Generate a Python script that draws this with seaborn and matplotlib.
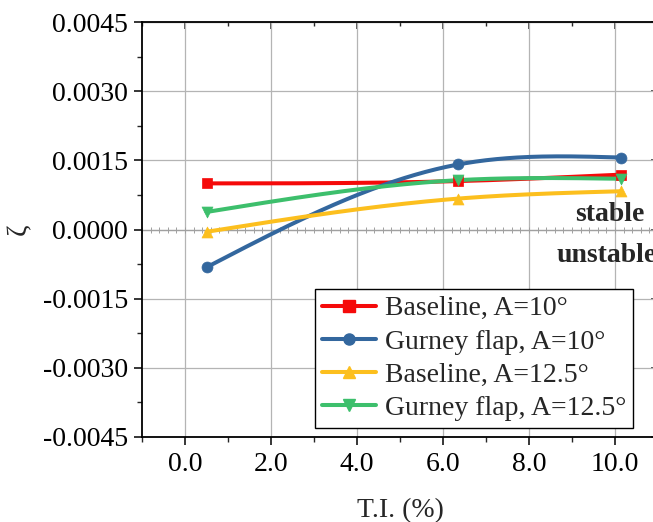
import numpy as np
import pandas as pd
import matplotlib
matplotlib.use("Agg")
import matplotlib.pyplot as plt
import seaborn as sns
from matplotlib.lines import Line2D
from matplotlib.ticker import MultipleLocator, FormatStrFormatter

# ---- data ----
ti = [0.5, 6.35, 10.15]
baseline_10 = [0.00100, 0.00105, 0.00119]
gurney_10 = [-0.00082, 0.00141, 0.00156]
baseline_125 = [-0.00005, 0.00067, 0.00083]
gurney_125 = [0.00038, 0.00107, 0.00110]
series_labels = ["Baseline, A=10°", "Gurney flap, A=10°",
                 "Baseline, A=12.5°", "Gurney flap, A=12.5°"]
x_ticks = [0.0, 2.0, 4.0, 6.0, 8.0, 10.0]
y_ticks = [-0.0045, -0.0030, -0.0015, 0.0, 0.0015, 0.0030, 0.0045]

colors = ["#f50a0a", "#33679e", "#fcbf1e", "#3dbf6c"]
markers = ["s", "o", "^", "v"]


def spline_path(x, y, n=200):
    """Natural cubic spline connecting the points (Origin-style spline line)."""
    x = np.asarray(x, float)
    y = np.asarray(y, float)
    k = len(x)
    h = np.diff(x)
    A = np.zeros((k, k))
    b = np.zeros(k)
    A[0, 0] = A[-1, -1] = 1.0
    for i in range(1, k - 1):
        A[i, i - 1] = h[i - 1]
        A[i, i] = 2 * (h[i - 1] + h[i])
        A[i, i + 1] = h[i]
        b[i] = 6 * ((y[i + 1] - y[i]) / h[i] - (y[i] - y[i - 1]) / h[i - 1])
    M = np.linalg.solve(A, b)
    xs = np.linspace(x[0], x[-1], n)
    idx = np.clip(np.searchsorted(x, xs) - 1, 0, k - 2)
    x0, x1 = x[idx], x[idx + 1]
    hh = x1 - x0
    ys = (M[idx] * (x1 - xs) ** 3 / (6 * hh) + M[idx + 1] * (xs - x0) ** 3 / (6 * hh)
          + (y[idx] / hh - M[idx] * hh / 6) * (x1 - xs)
          + (y[idx + 1] / hh - M[idx + 1] * hh / 6) * (xs - x0))
    return xs, ys


sns.set_style("ticks")
plt.rcParams["font.family"] = ["Liberation Serif", "DejaVu Serif"]
plt.rcParams["axes.unicode_minus"] = False

FS = 20

fig = plt.figure(figsize=(6.53, 5.22), dpi=100)
ax = fig.add_axes([142 / 653, 85 / 522, 516 / 653, 415 / 522])

ax.set_xlim(-1.0, 11.0)
ax.set_ylim(-0.0045, 0.0045)

# grid and zero line
ax.grid(True, which="major", color="#b4b4b4", linewidth=0.9)
ax.set_axisbelow(True)
ax.axhline(0, color="#a0a0a0", linewidth=0.9, zorder=1)
zt = np.arange(-1.0, 11.01, 0.2)
ax.plot(zt, np.zeros_like(zt), linestyle="none", marker="|", markersize=4,
        color="#a0a0a0", markeredgewidth=0.7, zorder=1)

all_series = [baseline_10, gurney_10, baseline_125, gurney_125]
handles = []
for vals, lab, c, m in zip(all_series, series_labels, colors, markers):
    xs, ys = spline_path(ti, vals)
    sns.lineplot(x=xs, y=ys, ax=ax, color=c, linewidth=2.9, sort=False,
                 estimator=None, zorder=3)
    df = pd.DataFrame({"ti": ti, "z": vals})
    sns.scatterplot(data=df, x="ti", y="z", ax=ax, color=c, marker=m,
                    s=62, edgecolor=c, linewidth=0.5, zorder=4)
    handles.append(Line2D([], [], color=c, marker=m, linewidth=2.9,
                          markersize=8, label=lab))

# ticks
ax.set_xticks(x_ticks)
ax.set_yticks(y_ticks)
ax.xaxis.set_minor_locator(MultipleLocator(1.0))
ax.yaxis.set_minor_locator(MultipleLocator(0.00075))
ax.xaxis.set_major_formatter(FormatStrFormatter("%.1f"))
ax.yaxis.set_major_formatter(FormatStrFormatter("%.4f"))
ax.tick_params(which="major", direction="out", length=6, width=1.1,
               labelsize=FS, colors="black")
ax.tick_params(axis="x", which="major", pad=5)
ax.tick_params(axis="y", which="major", pad=4)
ax.tick_params(which="minor", direction="out", length=3.5, width=1.0)

for s in ax.spines.values():
    s.set_linewidth(1.3)
    s.set_color("black")

# top & right inward ticks
top = ax.secondary_xaxis("top")
top.xaxis.set_major_locator(MultipleLocator(2.0))
top.xaxis.set_minor_locator(MultipleLocator(1.0))
top.tick_params(which="major", direction="in", length=5, width=1.1, labeltop=False)
top.tick_params(which="minor", direction="in", length=3, width=1.0)
right = ax.secondary_yaxis("right")
right.yaxis.set_major_locator(MultipleLocator(0.0015))
right.yaxis.set_minor_locator(MultipleLocator(0.00075))
right.tick_params(which="major", direction="in", length=5, width=1.1, labelright=False)
right.tick_params(which="minor", direction="in", length=3, width=1.0)

ax.set_xlabel("T.I. (%)", fontsize=FS, labelpad=15)
ax.set_ylabel("ζ", fontsize=FS, labelpad=8)

ax.text(9.07, 0.00033, "stable", fontsize=FS, fontweight="bold",
        ha="left", va="center")
ax.text(8.65, -0.00056, "unstable", fontsize=FS, fontweight="bold",
        ha="left", va="center")

leg = ax.legend(handles=handles, loc="lower right",
                bbox_to_anchor=(633 / 653, 94 / 522),
                bbox_transform=fig.transFigure, fontsize=FS, frameon=True,
                fancybox=False, edgecolor="black", handlelength=1.95,
                handletextpad=0.3, labelspacing=0.28, borderpad=0.25,
                borderaxespad=0.0)
leg.get_frame().set_linewidth(1.0)
leg.get_frame().set_alpha(1.0)

fig.savefig("out.png", dpi=100)
